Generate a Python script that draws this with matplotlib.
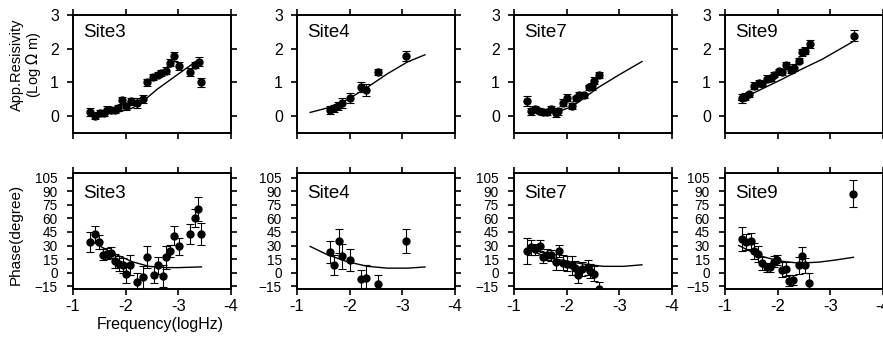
import matplotlib.pyplot as plt
import numpy as np

plt.rcParams['font.family'] = ['Liberation Sans', 'DejaVu Sans']

# --- Data ---
sites = ['Site3', 'Site4', 'Site7', 'Site9']

# apparent resistivity: x (log Hz), y (log ohm m), error
res_x = {
    'Site3': [-1.33, -1.41, -1.51, -1.58, -1.65, -1.73, -1.79, -1.86, -1.93, -2.01, -2.11, -2.22, -2.32,
              -2.41, -2.52, -2.61, -2.68, -2.76, -2.84, -2.91, -3.01, -3.22, -3.31, -3.39, -3.43],
    'Site4': [-1.62, -1.70, -1.78, -1.85, -2.00, -2.22, -2.31, -2.53, -3.07],
    'Site7': [-1.25, -1.32, -1.40, -1.48, -1.56, -1.62, -1.70, -1.80, -1.84, -1.93, -2.00, -2.10, -2.17,
              -2.24, -2.32, -2.42, -2.48, -2.52, -2.61],
    'Site9': [-1.32, -1.38, -1.46, -1.56, -1.64, -1.70, -1.80, -1.88, -1.93, -2.02, -2.09, -2.16, -2.25,
              -2.31, -2.41, -2.47, -2.52, -2.61, -3.44],
}
res_y = {
    'Site3': [0.13, 0.01, 0.09, 0.09, 0.19, 0.17, 0.17, 0.24, 0.47, 0.29, 0.44, 0.39, 0.50,
              1.00, 1.16, 1.23, 1.28, 1.35, 1.59, 1.77, 1.48, 1.30, 1.52, 1.62, 1.00],
    'Site4': [0.19, 0.23, 0.31, 0.39, 0.54, 0.86, 0.78, 1.31, 1.79],
    'Site7': [0.45, 0.14, 0.21, 0.16, 0.11, 0.11, 0.21, 0.09, 0.14, 0.40, 0.55, 0.30, 0.53,
              0.63, 0.62, 0.85, 0.89, 1.05, 1.22],
    'Site9': [0.53, 0.58, 0.65, 0.90, 0.98, 0.96, 1.11, 1.13, 1.23, 1.33, 1.30, 1.51, 1.38,
              1.44, 1.65, 1.89, 1.94, 2.14, 2.39],
}
res_err = {
    'Site3': [0.12, 0.1, 0.08, 0.08, 0.1, 0.08, 0.08, 0.1, 0.1, 0.1, 0.1, 0.15, 0.12,
              0.1, 0.08, 0.08, 0.08, 0.1, 0.1, 0.12, 0.12, 0.12, 0.1, 0.12, 0.14],
    'Site4': [0.12, 0.1, 0.12, 0.15, 0.14, 0.14, 0.18, 0.1, 0.15],
    'Site7': [0.14, 0.1, 0.08, 0.08, 0.08, 0.08, 0.1, 0.12, 0.1, 0.1, 0.1, 0.1, 0.08,
              0.08, 0.08, 0.08, 0.1, 0.1, 0.1],
    'Site9': [0.14, 0.1, 0.08, 0.1, 0.08, 0.08, 0.1, 0.1, 0.08, 0.08, 0.08, 0.1, 0.1,
              0.1, 0.08, 0.1, 0.1, 0.12, 0.16],
}

# phase: x (log Hz), y (degree), error
ph_x = {
    'Site3': [-1.33, -1.41, -1.49, -1.57, -1.65, -1.73, -1.80, -1.87, -1.95, -2.01, -2.09, -2.22, -2.32,
              -2.41, -2.53, -2.61, -2.71, -2.76, -2.84, -2.91, -3.01, -3.22, -3.32, -3.38, -3.43],
    'Site4': [-1.62, -1.70, -1.80, -1.86, -2.00, -2.22, -2.31, -2.53, -3.07],
    'Site7': [-1.25, -1.32, -1.40, -1.50, -1.56, -1.63, -1.70, -1.79, -1.86, -1.93, -2.00, -2.10, -2.15,
              -2.21, -2.30, -2.40, -2.45, -2.52, -2.61],
    'Site9': [-1.32, -1.40, -1.49, -1.56, -1.62, -1.70, -1.80, -1.86, -1.93, -1.99, -2.09, -2.15, -2.21,
              -2.29, -2.41, -2.46, -2.52, -2.60, -3.43],
}
ph_y = {
    'Site3': [34, 43, 34, 20, 21, 22, 13, 10, 8, -1, 9, -10, -5,
              17, -2, 8, -4, 17, 24, 41, 29, 43, 60, 70, 43],
    'Site4': [23, 9, 35, 18, 14, -7, -6, -12, 35],
    'Site7': [24, 28, 26, 30, 17, 20, 19, 12, 24, 11, 10, 8, 5,
              -3, 4, 6, 2, -1, -18],
    'Site9': [37, 34, 35, 24, 21, 10.5, 6, 6, 12, 14, 3.5, 4, -9,
              -8, 8, 18, 8, -11, 87],
}
ph_err = {
    'Site3': [11, 9, 8, 6, 6, 6, 8, 8, 8, 10, 11, 10, 12,
              12, 9, 9, 12, 13, 7, 10, 9, 11, 10, 13, 12],
    'Site4': [12, 11, 13, 14, 12, 10, 14, 9, 13],
    'Site7': [14, 8, 6, 6, 6, 6, 6, 9, 7, 8, 8, 10, 8,
              8, 8, 8, 8, 8, 8],
    'Site9': [13, 9, 9, 9, 9, 7, 5, 5, 6, 5, 8, 8, 6,
              6, 9, 10, 8, 11, 15],
}

# model curves
mod_res_x = {
    'Site3': [-1.30, -1.60, -1.90, -2.10, -2.30, -2.60, -3.00, -3.35],
    'Site4': [-1.25, -1.57, -1.96, -2.34, -2.72, -3.10, -3.43],
    'Site7': [-1.30, -1.60, -1.90, -2.10, -2.30, -2.60, -3.00, -3.43],
    'Site9': [-1.26, -1.64, -2.09, -2.41, -2.85, -3.44],
}
mod_res_y = {
    'Site3': [0.06, 0.09, 0.14, 0.22, 0.40, 0.80, 1.25, 1.64],
    'Site4': [0.11, 0.24, 0.49, 0.86, 1.26, 1.61, 1.82],
    'Site7': [0.12, 0.12, 0.17, 0.28, 0.50, 0.85, 1.23, 1.62],
    'Site9': [0.47, 0.76, 1.10, 1.36, 1.69, 2.22],
}
mod_ph_x = {
    'Site3': [-1.32, -1.70, -2.13, -2.44, -2.76, -3.01, -3.44],
    'Site4': [-1.25, -1.57, -1.96, -2.34, -2.72, -3.10, -3.43],
    'Site7': [-1.25, -1.62, -2.06, -2.38, -2.70, -3.08, -3.43],
    'Site9': [-1.26, -1.64, -2.02, -2.41, -2.79, -3.10, -3.44],
}
mod_ph_y = {
    'Site3': [36, 23, 12, 7, 5.6, 5.6, 6.4],
    'Site4': [29, 20, 12, 7, 5, 5, 6.3],
    'Site7': [26.5, 17, 12, 9, 7, 7, 8.7],
    'Site9': [30, 19, 13, 10.5, 11.7, 14, 17],
}

# --- Layout ---
W, H = 883, 343
fig = plt.figure(figsize=(W / 100, H / 100), dpi=100)
lefts = [73, 297, 514, 725]
aw = 158


def style_axes(ax, bottom_row):
    ax.set_xlim(-1, -4)
    ax.set_xticks([-1, -2, -3, -4])
    ax.tick_params(direction='out', length=4, width=1.2, top=True, right=True)
    for s in ax.spines.values():
        s.set_linewidth(1.4)
    if bottom_row:
        ax.set_xticklabels(['-1', '-2', '-3', '-4'])
        ax.tick_params(axis='x', labelsize=12, pad=3)
    else:
        ax.set_xticklabels([])


for i, site in enumerate(sites):
    # resistivity panel
    ax = fig.add_axes([lefts[i] / W, (H - 133) / H, aw / W, 118 / H])
    ax.errorbar(res_x[site], res_y[site], yerr=res_err[site], fmt='o', color='black',
                ms=5, elinewidth=0.8, capsize=3, capthick=0.8)
    ax.plot(mod_res_x[site], mod_res_y[site], '-', color='black', lw=1.0)
    ax.set_ylim(-0.5, 3)
    ax.set_yticks([0, 1, 2, 3])
    style_axes(ax, False)
    ax.tick_params(axis='y', labelsize=11.5, pad=6)
    ax.text(0.065, 0.855, site, transform=ax.transAxes, fontsize=13.5, va='center')
    if i == 0:
        ax.set_ylabel('App.Resisivity\n(Log $\\Omega$ m)', fontsize=10.5, linespacing=1.0)
        ax.yaxis.set_label_coords(-0.19, 0.58)

    # phase panel
    ax2 = fig.add_axes([lefts[i] / W, 54 / H, aw / W, 116 / H])
    ax2.errorbar(ph_x[site], ph_y[site], yerr=ph_err[site], fmt='o', color='black',
                 ms=5, elinewidth=0.8, capsize=3, capthick=0.8)
    ax2.plot(mod_ph_x[site], mod_ph_y[site], '-', color='black', lw=1.0)
    ax2.set_ylim(-18, 110)
    ax2.set_yticks(np.arange(-15, 106, 15))
    style_axes(ax2, True)
    ax2.tick_params(axis='y', labelsize=9.8, pad=7)
    ax2.text(0.065, 0.825, site, transform=ax2.transAxes, fontsize=13.5, va='center')
    if i == 0:
        ax2.set_ylabel('Phase(degree)', fontsize=11)
        ax2.yaxis.set_label_coords(-0.32, 0.47)
        ax2.set_xlabel('Frequency(logHz)', fontsize=11.5)
        ax2.xaxis.set_label_coords(0.55, -0.24)

fig.savefig('out.png', dpi=100)
